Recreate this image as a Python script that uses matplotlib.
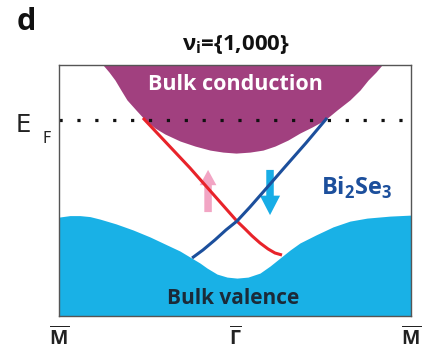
import matplotlib
matplotlib.use("Agg")
import matplotlib.pyplot as plt
from matplotlib.patches import FancyArrowPatch, ArrowStyle

# ---- data (k along M-Gamma-M, energy in arbitrary units 0..1) ----
cond_k = [-0.750, -0.716, -0.682, -0.648, -0.614, -0.563, -0.511, -0.455, -0.398, -0.312,
          -0.227, -0.142, -0.068, 0.006, 0.085, 0.159, 0.227, 0.301, 0.369, 0.438,
          0.511, 0.580, 0.653, 0.710, 0.756, 0.801, 0.835]
cond_E = [1.000, 0.972, 0.940, 0.900, 0.861, 0.821, 0.781, 0.749, 0.725, 0.697,
          0.677, 0.661, 0.653, 0.649, 0.653, 0.661, 0.677, 0.701, 0.729, 0.753,
          0.781, 0.821, 0.861, 0.900, 0.940, 0.972, 1.000]

val_k = [-1.0, -0.938, -0.881, -0.824, -0.767, -0.676, -0.580, -0.483, -0.386, -0.313,
         -0.256, -0.199, -0.159, -0.102, -0.045, 0.011, 0.074, 0.142, 0.199, 0.256,
         0.313, 0.369, 0.460, 0.557, 0.653, 0.750, 0.881, 1.0]
val_E = [0.394, 0.400, 0.400, 0.396, 0.386, 0.367, 0.343, 0.315, 0.283, 0.259,
         0.235, 0.211, 0.191, 0.167, 0.155, 0.151, 0.155, 0.171, 0.199, 0.231,
         0.263, 0.291, 0.323, 0.355, 0.378, 0.390, 0.398, 0.402]

red_k = [-0.523, -0.256, 0.011, 0.057, 0.097, 0.142, 0.188, 0.227, 0.267]
red_E = [0.789, 0.590, 0.378, 0.347, 0.319, 0.291, 0.267, 0.251, 0.243]

blue_k = [-0.244, -0.182, -0.114, -0.051, 0.011, 0.085, 0.170, 0.284, 0.403, 0.523]
blue_E = [0.231, 0.263, 0.303, 0.343, 0.378, 0.434, 0.502, 0.594, 0.689, 0.789]

E_F = 0.781

spin_k = [-0.153, 0.199]
spin_E_from = [0.414, 0.582]
spin_E_to = [0.582, 0.402]

tick_k = [-1.0, 0.0, 1.0]
tick_labels = [r'$\overline{\mathregular{M}}$', r'$\overline{\mathregular{\Gamma}}$', r'$\overline{\mathregular{M}}$']

# ---- colors ----
PURPLE = '#a1407f'
CYAN = '#19b1e6'
RED = '#e8232a'
BLUE = '#1c4f9c'
PINK = '#f2a5c4'
ARROW_CYAN = '#18ade6'

FONT = 'Open Sans'

fig = plt.figure(figsize=(4.23, 3.54), dpi=100)
ax = fig.add_axes([59/423, (354-316)/354, 352/423, 251/354])
ax.set_xlim(-1, 1)
ax.set_ylim(0, 1)

ax.fill_between(cond_k, cond_E, 1.2, color=PURPLE, lw=0, zorder=1)
ax.fill_between(val_k, -0.1, val_E, color=CYAN, lw=0, zorder=1)

ax.plot(red_k, red_E, color=RED, lw=2.2, solid_capstyle='butt', solid_joinstyle='round', zorder=3)
ax.plot(blue_k, blue_E, color=BLUE, lw=2.2, solid_capstyle='butt', solid_joinstyle='round', zorder=3)

ax.axhline(E_F, color='#111111', lw=2.3, ls=(0, (1, 4.6)), zorder=4, clip_on=False)

# spin arrows
styles = [ArrowStyle.Simple(head_length=11, head_width=12, tail_width=5.4),
          ArrowStyle.Simple(head_length=14, head_width=14.5, tail_width=5.4)]
for k, e0, e1, col, st in zip(spin_k, spin_E_from, spin_E_to, [PINK, ARROW_CYAN], styles):
    ar = FancyArrowPatch((k, e0), (k, e1), arrowstyle=st, mutation_scale=1,
                         color=col, lw=0, shrinkA=0, shrinkB=0, zorder=2)
    ax.add_patch(ar)

ax.text(0.0, 0.922, 'Bulk conduction', color='white', fontsize=15.5, fontweight='bold',
        family=FONT, ha='center', va='center', zorder=5)
ax.text(-0.01, 0.07, 'Bulk valence', color='#1b2a38', fontsize=15, fontweight='bold',
        family=FONT, ha='center', va='center', zorder=5)
ax.text(0.69, 0.51, r'Bi$_\mathregular{2}$Se$_\mathregular{3}$', color=BLUE, fontsize=17,
        fontweight='bold', family=FONT, ha='center', va='center', zorder=5)

ax.set_xticks(tick_k)
ax.set_xticklabels(tick_labels, fontsize=14, fontweight='bold', family=FONT, color='#222222')
ax.tick_params(axis='x', length=0, pad=7)
ax.set_yticks([])
for s in ax.spines.values():
    s.set_color('#555555')
    s.set_linewidth(1.0)
    s.set_zorder(6)

fig.text(26/423, 1 - 22/354, 'd', fontsize=22, fontweight='bold', family=FONT,
         ha='center', va='center', color='#111111')
fig.text(236/423, 1 - 44/354, r'ν$_\mathregular{i}$={1,000}', fontsize=16, fontweight='bold',
         family=FONT, ha='center', va='center', color='#111111')
fig.text(23/423, 1 - 125/354, 'E', fontsize=17.5, family='DejaVu Sans',
         ha='center', va='center', color='#222222')
fig.text(47/423, 1 - 138/354, 'F', fontsize=11, family='DejaVu Sans', ha='center', va='center',
         color='#222222')

fig.savefig('out.png', dpi=100)
